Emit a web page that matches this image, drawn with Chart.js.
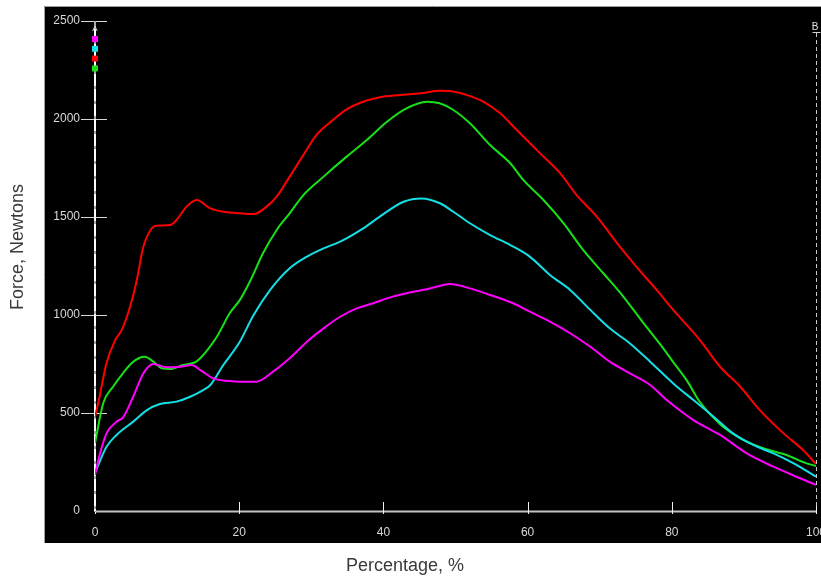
<!DOCTYPE html>
<html><head><meta charset="utf-8">
<script src="https://cdn.jsdelivr.net/npm/chart.js@4/dist/chart.umd.min.js"></script>
<style>html,body{margin:0;padding:0;background:#fff;}canvas{display:block;}</style>
</head><body>
<canvas id="c" width="821" height="579"></canvas>
<script>
// ---- data ----
const xTickValues = [0, 20, 40, 60, 80, 100];
const yTickValues = [0, 500, 1000, 1500, 2000, 2500];
const xTitle = 'Percentage, %';
const yTitle = 'Force, Newtons';

const redX = [0, 0.5, 1.6, 2.8, 3.7, 4.85, 5.8, 6.7, 7.9, 8.6, 10.4, 11.3, 12.7, 14.1, 16, 17.8, 20.1, 22, 23.8, 25.2, 27, 28.9, 30.7, 33, 34.9, 36.8, 39.5, 42.3, 45.1, 47.9, 49.2, 51.6, 53.9, 56.2, 58.5, 61.7, 64.5, 66.8, 69.6, 72.4, 75.1, 77.9, 80.2, 83.9, 86.7, 89.5, 92.2, 95.5, 98.2, 100];
const redY = [480, 560, 755, 872, 923, 1041, 1179, 1347, 1444, 1456, 1459, 1485, 1553, 1587, 1544, 1527, 1519, 1515, 1553, 1604, 1706, 1816, 1918, 1995, 2049, 2083, 2111, 2122, 2131, 2144, 2143, 2122, 2088, 2029, 1944, 1826, 1724, 1612, 1502, 1367, 1246, 1128, 1026, 872, 736, 634, 515, 396, 311, 240];

const greenX = [0, 1.15, 2.5, 3.9, 5.1, 6.2, 6.9, 8.1, 9.25, 10.4, 12.2, 13.9, 14.6, 16.9, 18.7, 20.1, 21.5, 23.3, 25.2, 27, 28.9, 31.7, 34.9, 37.7, 40.5, 43.2, 46, 47.8, 49.7, 52, 54.8, 57.6, 59.4, 62.2, 65, 67.7, 70.5, 73.3, 76, 78.4, 80.2, 82.1, 83.9, 86.7, 89.5, 92.7, 95.9, 98.7, 100];
const greenY = [347, 551, 634, 704, 755, 782, 787, 762, 728, 724, 745, 759, 779, 889, 1010, 1077, 1172, 1315, 1434, 1519, 1612, 1706, 1808, 1893, 1986, 2054, 2088, 2080, 2046, 1978, 1867, 1774, 1689, 1587, 1468, 1332, 1213, 1093, 962, 850, 760, 665, 556, 442, 371, 320, 286, 243, 230];

const cyanX = [0, 1.6, 3, 5.3, 7.2, 9, 11.3, 13.2, 15, 16, 17.8, 20, 22, 24.3, 27, 29.4, 31.7, 34, 37.2, 39.5, 42.8, 45.3, 47.85, 49.7, 52, 54.8, 57.6, 60.3, 63.1, 65.9, 68.7, 71.4, 74.2, 77, 80.2, 83, 85.8, 88.5, 91.3, 94.1, 96.9, 100];
const cyanY = [194, 328, 388, 456, 515, 546, 558, 583, 617, 643, 745, 858, 1000, 1128, 1238, 1298, 1340, 1374, 1442, 1502, 1578, 1595, 1570, 1527, 1468, 1408, 1357, 1298, 1204, 1128, 1026, 932, 855, 762, 651, 566, 481, 396, 337, 294, 243, 175];

const magentaX = [0, 0.7, 1.6, 3, 3.9, 5.3, 6.7, 8.1, 9.9, 11.8, 13.4, 14.6, 16.4, 18.7, 20.1, 22.4, 24.7, 27, 29.4, 31.7, 34, 36.3, 38.6, 40.5, 43.2, 46, 48.3, 49.2, 52, 54.8, 58, 60.3, 63.1, 65.9, 68.7, 71.4, 74.2, 77, 79.3, 83, 86.7, 90.4, 94.1, 97.8, 100];
const magentaY = [184, 294, 396, 456, 478, 583, 702, 750, 733, 736, 745, 719, 677, 663, 660, 660, 711, 779, 864, 932, 991, 1034, 1060, 1085, 1111, 1131, 1153, 1158, 1136, 1102, 1060, 1017, 966, 907, 838, 762, 702, 643, 566, 464, 388, 294, 226, 167, 133];

const seriesColors = ['#ff00ff', '#14dfe6', '#ff0000', '#18e018'];

function pts(xs, ys) { return xs.map((x, i) => ({x: x, y: ys[i]})); }

const FONT = '"Liberation Sans", Arial, sans-serif';

const deco = {
  id: 'deco',
  beforeDraw(chart) {
    const ctx = chart.ctx;
    ctx.save();
    ctx.fillStyle = '#fff';
    ctx.fillRect(0, 0, chart.width, chart.height);
    ctx.fillStyle = '#000';
    ctx.fillRect(44, 6, chart.width - 44, 537);
    ctx.strokeStyle = '#a0a0a0';
    ctx.lineWidth = 1;
    ctx.beginPath();
    ctx.moveTo(44.5, 543); ctx.lineTo(44.5, 6.5); ctx.lineTo(chart.width, 6.5);
    ctx.stroke();
    ctx.restore();
  },
  beforeDatasetsDraw(chart) {
    const ctx = chart.ctx;
    const xs = chart.scales.x, ys = chart.scales.y;
    const x0 = xs.getPixelForValue(0), x1 = xs.getPixelForValue(100);
    const y0 = ys.getPixelForValue(0), yTop = ys.getPixelForValue(2500);
    ctx.save();
    // x axis line
    ctx.strokeStyle = '#c4c4c4';
    ctx.lineWidth = 2;
    ctx.beginPath(); ctx.moveTo(x0, y0 + 0.5); ctx.lineTo(x1, y0 + 0.5); ctx.stroke();
    // x ticks (upward)
    ctx.strokeStyle = '#f0f0f0';
    ctx.lineWidth = 1;
    xTickValues.forEach(v => {
      const px = Math.round(xs.getPixelForValue(v)) + 0.5;
      ctx.beginPath(); ctx.moveTo(px, y0 - 9); ctx.lineTo(px, y0 + 3); ctx.stroke();
    });
    // y ticks (crossing the axis)
    ctx.strokeStyle = '#d8d8d8';
    yTickValues.forEach(v => {
      if (v === 0) return;
      const py = Math.round(ys.getPixelForValue(v)) + 0.5;
      ctx.beginPath(); ctx.moveTo(x0 - 14, py); ctx.lineTo(x0 + 12, py); ctx.stroke();
    });
    // y axis: grey base with white dashed cursor A over it
    ctx.strokeStyle = '#a8a8a8';
    ctx.lineWidth = 2;
    ctx.beginPath(); ctx.moveTo(x0, yTop); ctx.lineTo(x0, y0 + 1); ctx.stroke();
    ctx.strokeStyle = '#ffffff';
    ctx.setLineDash([12, 3]);
    ctx.beginPath(); ctx.moveTo(x0, yTop + 8); ctx.lineTo(x0, y0); ctx.stroke();
    // cursor B dashed at right
    ctx.strokeStyle = '#c8c8c8';
    ctx.lineWidth = 1;
    ctx.setLineDash([4, 3]);
    const bx = Math.round(x1) + 0.5;
    ctx.beginPath(); ctx.moveTo(bx, yTop + 12); ctx.lineTo(bx, y0 - 2); ctx.stroke();
    ctx.setLineDash([]);
    ctx.strokeStyle = '#cfcfcf';
    ctx.beginPath(); ctx.moveTo(bx - 4, yTop + 11.5); ctx.lineTo(bx + 4, yTop + 11.5); ctx.stroke();
    ctx.restore();
  },
  afterDatasetsDraw(chart) {
    const ctx = chart.ctx;
    const xs = chart.scales.x, ys = chart.scales.y;
    const x0 = xs.getPixelForValue(0), x1 = xs.getPixelForValue(100);
    const yTop = ys.getPixelForValue(2500);
    ctx.save();
    // cursor labels
    ctx.fillStyle = '#e0e0e0';
    ctx.textAlign = 'center';
    ctx.textBaseline = 'middle';
    ctx.font = '8px ' + FONT;
    ctx.fillText('A', x0, yTop + 8);
    ctx.font = '10px ' + FONT;
    ctx.fillText('B', x1 - 1, yTop + 6);
    // series markers on cursor A
    seriesColors.forEach((c, i) => {
      ctx.fillStyle = c;
      ctx.fillRect(x0 - 3, yTop + 15 + i * 9.8, 6, 6);
    });
    // axis titles
    ctx.fillStyle = '#3a3a3a';
    ctx.font = '18px ' + FONT;
    ctx.textAlign = 'center';
    ctx.textBaseline = 'middle';
    ctx.fillText(xTitle, 405, 566);
    ctx.translate(18, 247);
    ctx.rotate(-Math.PI / 2);
    ctx.fillText(yTitle, 0, 0);
    ctx.restore();
  }
};

function ds(label, xs, ys, color) {
  return {label: label, data: pts(xs, ys), borderColor: color, backgroundColor: color,
    borderWidth: 2, pointRadius: 0, fill: false, cubicInterpolationMode: 'monotone'};
}

new Chart(document.getElementById('c'), {
  type: 'line',
  data: {
    datasets: [
      ds('Magenta', magentaX, magentaY, seriesColors[0]),
      ds('Cyan', cyanX, cyanY, seriesColors[1]),
      ds('Green', greenX, greenY, seriesColors[3]),
      ds('Red', redX, redY, seriesColors[2])
    ]
  },
  options: {
    responsive: false,
    animation: false,
    devicePixelRatio: 1,
    layout: {padding: {left: 0, top: 21, right: 5, bottom: 0}},
    plugins: {legend: {display: false}, tooltip: {enabled: false}},
    scales: {
      x: {
        type: 'linear', min: 0, max: 100,
        afterBuildTicks(s) { s.ticks = xTickValues.map(v => ({value: v})); },
        afterFit(s) { s.height = 68; s.paddingLeft = 0; s.paddingRight = 0; },
        ticks: {color: '#d8d8d8', font: {size: 12, family: FONT}, padding: 14, maxRotation: 0, autoSkip: false,
          callback: v => String(v)},
        grid: {display: false, drawTicks: false},
        border: {display: false}
      },
      y: {
        type: 'linear', min: 0, max: 2500,
        afterBuildTicks(s) { s.ticks = yTickValues.map(v => ({value: v})); },
        afterFit(s) { s.width = 95; s.paddingTop = 0; s.paddingBottom = 0; },
        ticks: {color: '#d8d8d8', font: {size: 12, family: FONT}, padding: 15, autoSkip: false,
          callback: v => String(v)},
        grid: {display: false, drawTicks: false},
        border: {display: false}
      }
    }
  },
  plugins: [deco]
});
</script>
</body></html>
